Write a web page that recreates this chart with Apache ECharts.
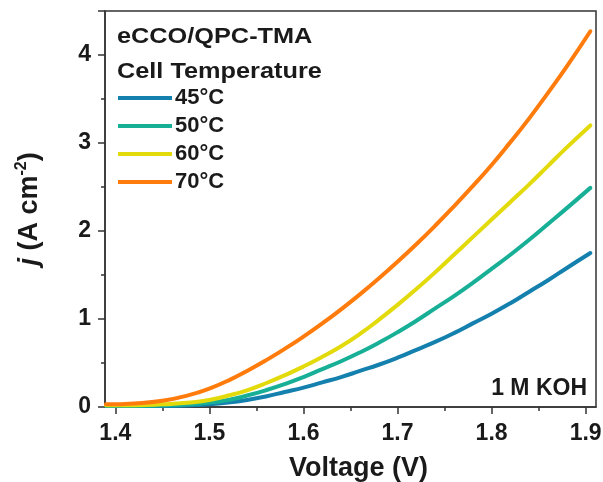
<!DOCTYPE html>
<html><head><meta charset="utf-8">
<script src="https://cdn.jsdelivr.net/npm/echarts@6/dist/echarts.min.js"></script>
<style>html,body{margin:0;padding:0;background:#fff}#c{width:603px;height:482px}</style>
</head><body><div id="c"></div>
<script>
var voltage = [1.39,1.42,1.45,1.48,1.50,1.52,1.54,1.56,1.58,1.60,1.62,1.64,1.66,1.68,1.70,1.72,1.74,1.76,1.78,1.80,1.82,1.84,1.86,1.88,1.905];
var j45 = [0.01,0.01,0.01,0.02,0.03,0.05,0.08,0.12,0.17,0.22,0.28,0.34,0.41,0.48,0.56,0.65,0.74,0.84,0.95,1.06,1.18,1.31,1.44,1.58,1.75];
var j50 = [0.01,0.01,0.02,0.03,0.05,0.08,0.13,0.19,0.26,0.34,0.43,0.52,0.62,0.73,0.85,0.98,1.12,1.26,1.41,1.57,1.73,1.90,2.08,2.26,2.49];
var j60 = [0.02,0.02,0.03,0.05,0.08,0.13,0.19,0.27,0.36,0.46,0.57,0.69,0.83,0.99,1.16,1.34,1.53,1.73,1.93,2.13,2.33,2.53,2.74,2.95,3.20];
var j70 = [0.03,0.04,0.07,0.14,0.21,0.30,0.41,0.53,0.66,0.80,0.95,1.11,1.28,1.46,1.65,1.85,2.06,2.28,2.51,2.75,3.01,3.28,3.57,3.87,4.27];
var seriesNames = ['45°C','50°C','60°C','70°C'];
var seriesColors = ['#1480ae','#17b097','#e3da0c','#ff7c0c'];
var xMajorTicks = [1.4,1.5,1.6,1.7,1.8,1.9];
var xMinorTicks = [1.45,1.55,1.65,1.75,1.85];
var yTicks = [0,1,2,3,4];

var FONT = 'Liberation Sans, Arial, sans-serif';
function pairs(ys){ return voltage.map(function(v,i){ return [v, ys[i]]; }); }
var allJ = [j45,j50,j60,j70];

var chart = echarts.init(document.getElementById('c'));
chart.setOption({
  animation:false,
  backgroundColor:'#fff',
  grid:{left:105,right:7,top:11,bottom:75,show:true,borderColor:'#333',borderWidth:1.5,backgroundColor:'transparent',outerBoundsMode:'none',containLabel:false},
  xAxis:[{
    type:'value',min:1.389,max:1.911,
    axisLine:{lineStyle:{color:'#333',width:1.5}},
    axisTick:{show:true,inside:false,length:7,lineStyle:{color:'#333',width:1.5},customValues:xMajorTicks},
    axisLabel:{customValues:xMajorTicks,formatter:function(v){return (+v).toFixed(1);},color:'#1a1a1a',fontFamily:FONT,fontWeight:'bold',fontSize:23,margin:15},
    splitLine:{show:false},
    name:'Voltage (V)',nameLocation:'middle',nameGap:48,
    nameTextStyle:{color:'#1a1a1a',fontFamily:FONT,fontWeight:'bold',fontSize:27,padding:[0,0,0,16]}
  },{
    type:'value',min:1.389,max:1.911,position:'bottom',
    axisLine:{show:false},
    axisTick:{show:true,inside:false,length:4,lineStyle:{color:'#333',width:1.5},customValues:xMinorTicks},
    axisLabel:{show:false},splitLine:{show:false}
  }],
  yAxis:{
    type:'value',min:0,max:4.5,interval:1,
    axisLine:{show:true,lineStyle:{color:'#333',width:1.5}},
    axisTick:{show:true,inside:false,length:7,lineStyle:{color:'#333',width:1.5}},
    minorTick:{show:true,splitNumber:2,length:4,lineStyle:{color:'#333',width:1.5}},
    axisLabel:{color:'#1a1a1a',fontFamily:FONT,fontWeight:'bold',fontSize:23,margin:14,
      customValues:yTicks},
    splitLine:{show:false},
    name:'{i|j}{n| (A cm}{s|-2}{n|)}',nameLocation:'middle',nameGap:59,
    nameTextStyle:{rich:{
      i:{fontFamily:FONT,fontWeight:'bold',fontStyle:'italic',fontSize:27,color:'#1a1a1a',lineHeight:32},
      n:{fontFamily:FONT,fontWeight:'bold',fontSize:27,color:'#1a1a1a',lineHeight:32},
      s:{fontFamily:FONT,fontWeight:'bold',fontSize:16,color:'#1a1a1a',lineHeight:16,verticalAlign:'top'}
    }}
  },
  legend:{
    data:seriesNames,orient:'vertical',left:113,top:82,
    icon:'rect',itemWidth:54,itemHeight:4,itemGap:6,
    textStyle:{fontFamily:FONT,fontWeight:'bold',fontSize:22,color:'#1a1a1a',padding:[0,0,0,-2],lineHeight:22}
  },
  graphic:[
    {type:'text',x:117,y:26,scaleX:1.15,style:{text:'eCCO/QPC-TMA',fontFamily:FONT,fontWeight:'bold',fontSize:22,fill:'#1a1a1a'}},
    {type:'text',x:117,y:61,scaleX:1.15,style:{text:'Cell Temperature',fontFamily:FONT,fontWeight:'bold',fontSize:22,fill:'#1a1a1a'}},
    {type:'text',right:16,top:377,style:{text:'1 M KOH',fontFamily:FONT,fontWeight:'bold',fontSize:23,fill:'#1a1a1a'}}
  ],
  series:allJ.map(function(arr,k){
    return {type:'line',name:seriesNames[k],data:pairs(arr),smooth:0.5,showSymbol:false,
      lineStyle:{color:seriesColors[k],width:4,cap:'round'},itemStyle:{color:seriesColors[k]},z:2+k};
  })
});
</script></body></html>
